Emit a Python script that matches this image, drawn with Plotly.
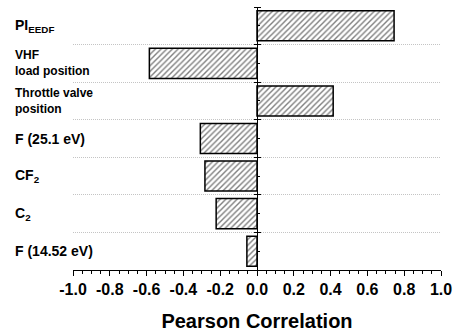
import plotly.graph_objects as go

categories = ["PI<sub>EEDF</sub>", "VHF<br>load position", "Throttle valve<br>position",
              "F (25.1 eV)", "CF<sub>2</sub>", "C<sub>2</sub>", "F (14.52 eV)"]
correlation = [0.745, -0.585, 0.414, -0.308, -0.283, -0.222, -0.055]
x_tickvals = [-1.0, -0.8, -0.6, -0.4, -0.2, 0.0, 0.2, 0.4, 0.6, 0.8, 1.0]
x_ticktext = ["-1.0", "-0.8", "-0.6", "-0.4", "-0.2", "0.0", "0.2", "0.4", "0.6", "0.8", "1.0"]

pos = list(range(len(categories)))
bounds = [p + 0.5 for p in pos[:-1]]
edges = [-0.5, len(categories) - 0.5]

FONT = "Arial, Liberation Sans, sans-serif"

fig = go.Figure()
fig.add_trace(go.Bar(
    x=correlation, y=pos, orientation="h", width=0.8,
    marker=dict(color="white", line=dict(color="black", width=1.5),
                pattern=dict(shape="/", fgcolor="black", bgcolor="white", size=4, solidity=0.35)),
    showlegend=False, hoverinfo="skip",
))
fig.add_trace(go.Scatter(x=[None], y=[None], yaxis="y2", showlegend=False, hoverinfo="skip"))

for p, c in zip(pos, categories):
    fs = 12 if "<br>" in c else 14
    fig.add_annotation(text=c, x=-0.163, xref="paper", y=p, yref="y", xanchor="left",
                       yanchor="middle", align="left", showarrow=False,
                       font=dict(family=FONT, size=fs, color="black", weight="bold"))

fig.update_layout(
    width=459, height=335,
    margin=dict(l=73, r=15, t=7, b=56),
    plot_bgcolor="white", paper_bgcolor="white",
    bargap=0.2,
    xaxis=dict(range=[-1, 1], tickvals=x_tickvals, ticktext=x_ticktext,
               ticks="outside", ticklen=5, tickwidth=1, tickcolor="black",
               minor=dict(dtick=0.05, tick0=0, ticks="outside", ticklen=3, tickcolor="black", showgrid=False),
               showline=True, linecolor="black", linewidth=1, showgrid=False, zeroline=False,
               tickfont=dict(family=FONT, size=16, color="black", weight="bold"),
               title=dict(text="Pearson Correlation", standoff=16,
                          font=dict(family=FONT, size=20, color="black", weight="bold"))),
    yaxis=dict(range=[len(categories) - 0.5, -0.5], anchor="free", position=0.5,
               tickmode="array", tickvals=bounds, showticklabels=False,
               ticks="outside", ticklen=3, tickcolor="black",
               minor=dict(tickmode="array", tickvals=edges, ticks="outside", ticklen=3,
                          tickcolor="black", showgrid=False),
               showgrid=True, gridcolor="#c4c4c4", griddash="1px,1px", gridwidth=1,
               showline=True, linecolor="black", linewidth=1, zeroline=False),
    yaxis2=dict(range=[len(categories) - 0.5, -0.5], overlaying="y", anchor="free", position=0.5,
                side="right", tickmode="array", tickvals=bounds + edges, showticklabels=False,
                ticks="outside", ticklen=3, tickcolor="black",
                minor=dict(tickmode="array", tickvals=pos, ticks="outside", ticklen=2,
                           tickcolor="black", showgrid=False),
                showgrid=False, showline=False, zeroline=False),
)

fig.write_html("out.html")
